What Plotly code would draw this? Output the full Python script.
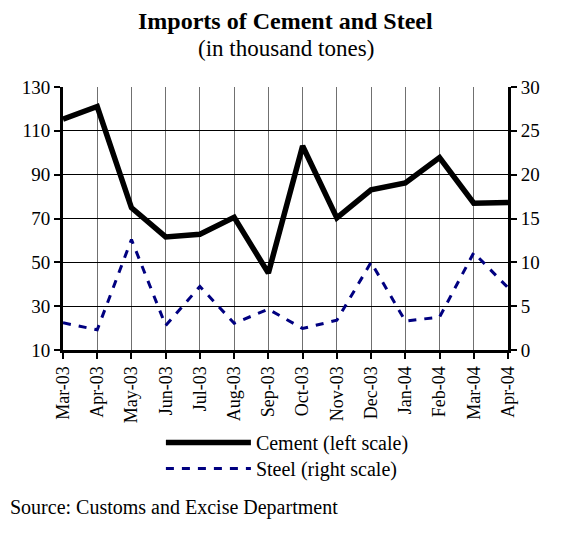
import plotly.graph_objects as go

months = ["Mar-03", "Apr-03", "May-03", "Jun-03", "Jul-03", "Aug-03", "Sep-03",
          "Oct-03", "Nov-03", "Dec-03", "Jan-04", "Feb-04", "Mar-04", "Apr-04"]
cement = [115.3, 121.1, 74.9, 61.6, 62.8, 70.5, 45.1,
          103.1, 70.3, 83.1, 86.2, 97.8, 77.0, 77.3]
steel = [3.1, 2.3, 12.6, 2.8, 7.25, 3.05, 4.65,
         2.45, 3.4, 10.0, 3.3, 3.75, 11.1, 7.1]

FONT = "Liberation Serif"

fig = go.Figure()
fig.add_trace(go.Scatter(x=months, y=cement, name="Cement (left scale)", mode="lines",
                         line=dict(color="black", width=5.5), legend="legend"))
fig.add_trace(go.Scatter(x=months, y=steel, name="Steel (right scale)", mode="lines",
                         line=dict(color="#000080", width=3, dash="8px,8px"), yaxis="y2",
                         legend="legend2"))

leg = dict(xanchor="left", yanchor="top", font=dict(family=FONT, size=20), itemwidth=85,
           bgcolor="rgba(0,0,0,0)", borderwidth=0)

# page body adds an 8px offset, so the figure is 564x533
fig.update_layout(
    template="none",
    width=564, height=533,
    margin=dict(l=55, r=64, t=79, b=191, pad=0),
    paper_bgcolor="white", plot_bgcolor="white",
    font=dict(family=FONT, size=18, color="black"),
    showlegend=True,
    legend=dict(leg, x=0.22, y=-0.2776),
    legend2=dict(leg, x=0.22, y=-0.3764),
    xaxis=dict(type="category", range=[0, 13], showgrid=True, gridcolor="#707070", gridwidth=1,
               ticks="outside", ticklen=6, tickwidth=2, tickcolor="black",
               showline=True, linecolor="black", linewidth=3, zeroline=False,
               tickangle=-90, tickfont=dict(family=FONT, size=18)),
    yaxis=dict(range=[10, 130], tick0=10, dtick=20, showgrid=True, gridcolor="black", gridwidth=1,
               ticks="outside", ticklen=6, tickwidth=2, tickcolor="black",
               showline=True, linecolor="black", linewidth=3, zeroline=False,
               tickfont=dict(family=FONT, size=19)),
    yaxis2=dict(range=[0, 30], tick0=0, dtick=5, overlaying="y", side="right", showgrid=False,
                ticks="outside", ticklen=6, tickwidth=2, tickcolor="black",
                showline=True, linecolor="black", linewidth=3, zeroline=False,
                tickfont=dict(family=FONT, size=19)),
    annotations=[
        dict(text="<b>Imports of Cement and Steel</b>", x=0.5, y=1, xref="paper", yref="paper",
             xanchor="center", yanchor="middle", yshift=66, showarrow=False,
             font=dict(family=FONT, size=24)),
        dict(text="(in thousand tones)", x=0.5, y=1, xref="paper", yref="paper",
             xanchor="center", yanchor="middle", yshift=39, showarrow=False,
             font=dict(family=FONT, size=23)),
        dict(text="Source: Customs and Excise Department", x=-0.1236, y=-0.598,
             xref="paper", yref="paper", xanchor="left", yanchor="middle",
             showarrow=False, font=dict(family=FONT, size=20)),
    ],
)

fig.write_html("out.html")
